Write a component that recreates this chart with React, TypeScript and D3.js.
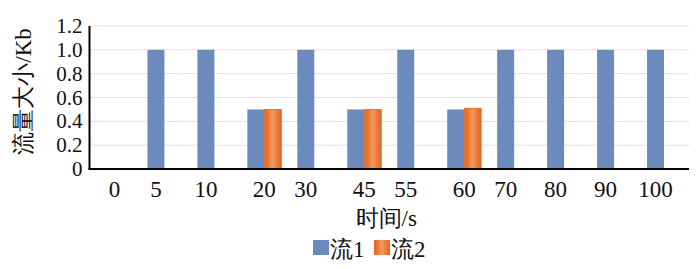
import { useMemo } from "react";
import * as d3 from "d3";

const WIDTH = 700;
const HEIGHT = 269;
const MARGIN = { top: 26, right: 11, left: 89.5 };

const CATEGORIES = ["0", "5", "10", "20", "30", "45", "55", "60", "70", "80", "90", "100"];
const FLOW1 = [0, 1, 1, 0.5, 1, 0.5, 1, 0.5, 1, 1, 1, 1];
const FLOW2 = [0, 0, 0, 0.5, 0, 0.5, 0, 0.51, 0, 0, 0, 0];
const SERIES_NAMES = ["流1", "流2"];
const Y_TICKS = [0, 0.2, 0.4, 0.6, 0.8, 1.0, 1.2];

const BLUE = "#6b8bbf";
const ORANGE = "#ec7a34";

function App() {
  const innerW = WIDTH - MARGIN.left - MARGIN.right;
  const innerH = 169 - MARGIN.top;

  const x = useMemo(
    () => d3.scaleBand().domain(CATEGORIES).range([0, innerW]).paddingInner(0.32).paddingOuter(0.16),
    [innerW]
  );
  const xs = useMemo(
    () => d3.scaleBand().domain(["0", "1"]).range([0, x.bandwidth()]),
    [x]
  );
  const y = useMemo(() => d3.scaleLinear().domain([0, 1.2]).range([innerH, 0]), [innerH]);

  const series = [FLOW1, FLOW2];

  // label sits on the visible bars of its category
  const labelX = (i: number) => {
    const base = x(CATEGORIES[i]) ?? 0;
    if (FLOW1[i] > 0 && FLOW2[i] === 0) return base + (xs("0") ?? 0) + xs.bandwidth() / 2;
    return base + x.bandwidth() / 2;
  };

  return (
    <div style={{ margin: "-8px 0 0 -8px", width: WIDTH, height: HEIGHT }}>
      <svg width={WIDTH} height={HEIGHT} className="chart">
        <style>{`.chart text { font-family: "Liberation Serif", "Times New Roman", serif; fill: #111; }`}</style>
        <defs>
          <linearGradient id="orangeGrad" x1="0" x2="1" y1="0" y2="0">
            <stop offset="0%" stopColor="#e0662a" />
            <stop offset="25%" stopColor={ORANGE} />
            <stop offset="50%" stopColor="#f29a62" />
            <stop offset="75%" stopColor={ORANGE} />
            <stop offset="100%" stopColor="#e0662a" />
          </linearGradient>
        </defs>
        <g transform={`translate(${MARGIN.left},${MARGIN.top})`}>
          {Y_TICKS.filter((t) => t > 0).map((t) => (
            <line key={t} x1={0} x2={innerW} y1={y(t)} y2={y(t)} stroke="#ecd9dd" strokeWidth={1} />
          ))}
          {series.map((vals, si) =>
            vals.map((v, i) =>
              v > 0 ? (
                <rect
                  key={`${si}-${i}`}
                  x={(x(CATEGORIES[i]) ?? 0) + (xs(String(si)) ?? 0)}
                  y={y(v)}
                  width={xs.bandwidth()}
                  height={innerH - y(v)}
                  fill={si === 0 ? BLUE : "url(#orangeGrad)"}
                  stroke={si === 0 ? "none" : "#e46b2a"}
                  strokeWidth={si === 0 ? 0 : 0.8}
                />
              ) : null
            )
          )}
          <line x1={0} x2={0} y1={0} y2={innerH} stroke="#000" strokeWidth={2} />
          <line x1={-1} x2={innerW} y1={innerH} y2={innerH} stroke="#000" strokeWidth={2} />
          {Y_TICKS.map((t) => (
            <text key={t} x={-7} y={y(t) + 7} textAnchor="end" fontSize={21}>
              {t === 0 ? "0" : t.toFixed(1)}
            </text>
          ))}
          {CATEGORIES.map((c, i) => (
            <text key={c} x={labelX(i)} y={innerH + 28} textAnchor="middle" fontSize={23}>
              {c}
            </text>
          ))}
          <text x={innerW / 2 - 3} y={innerH + 57} textAnchor="middle" fontSize={23}>
            时间/s
          </text>
        </g>
        <text
          transform={`translate(31,${MARGIN.top + innerH / 2 - 6}) rotate(-90)`}
          textAnchor="middle"
          fontSize={23}
        >
          流量大小/Kb
        </text>
        <g transform="translate(313,240)">
          {SERIES_NAMES.map((name, i) => (
            <g key={name} transform={`translate(${i * 61},0)`}>
              <rect x={0} y={0} width={16} height={15} fill={i === 0 ? BLUE : "url(#orangeGrad)"} />
              <text x={17} y={17} fontSize={23}>
                {name}
              </text>
            </g>
          ))}
        </g>
      </svg>
    </div>
  );
}

export default App;
